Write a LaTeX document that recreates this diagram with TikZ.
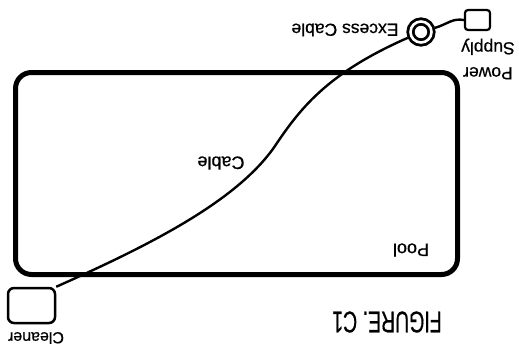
\documentclass[tikz,border=0pt]{standalone}
\usepackage{fontspec}
\setmainfont{Liberation Sans}
\newfontfamily\lblfont[FakeBold=0.6]{Liberation Sans}
\begin{document}
\begin{tikzpicture}[x=1pt,y=-1pt,
  lbl/.style={rotate=180, inner sep=0pt, font=\lblfont\fontsize{17}{25}\selectfont},
  boxc/.style={draw, line width=2.5pt, rounded corners=6pt, inner sep=0pt},
  cablec/.style={line width=2.4pt}]
\useasboundingbox (0,0) rectangle (519,346);
% pool
\draw[line width=5pt, rounded corners=16pt] (15.5,72.5) rectangle (457.5,274.5);
\node[lbl, font=\lblfont\fontsize{18}{22}\selectfont] (poollbl) at (411,250) {Pool};
% cleaner
\node[boxc, minimum width=47pt, minimum height=35pt] (cleaner) at (31.5,305.5) {};
\node[lbl, font=\lblfont\fontsize{16}{20}\selectfont] (cleanerlbl) at (36,338) {Cleaner};
% power supply
\node[boxc, line width=2.2pt, rounded corners=3pt, minimum width=25pt, minimum height=20pt] (power) at (477.5,20) {};
\node[lbl, align=center, font=\lblfont\fontsize{17.5}{25}\selectfont] (powerlbl) at (488,59) {Power\\Supply};
% excess cable coil
\node[circle, draw, line width=2.8pt, double distance=2.6pt, minimum size=21pt, inner sep=0pt, outer sep=4pt] (excess) at (421,32) {};
\node[lbl, font=\lblfont\fontsize{17.5}{22}\selectfont] (excesslbl) at (345,30) {Excess Cable};
% cable
\coordinate (bend) at (277,143);
\draw[cablec] (cleaner.north east) .. controls (150,245) and (240,200) .. (bend)
  .. controls (302,106) and (330,72) .. (excess);
\node[lbl, font=\lblfont\fontsize{18}{22}\selectfont] (cablelbl) at (221,163) {Cable};
\draw[cablec] (excess) .. controls (448,24) and (452,18) .. (power.west);
% caption
\node[rotate=180, inner sep=0pt] (caption) at (387,322) {\scalebox{0.65}[1]{\lblfont\fontsize{30}{32}\selectfont FIGURE. C1}};
\end{tikzpicture}
\end{document}
